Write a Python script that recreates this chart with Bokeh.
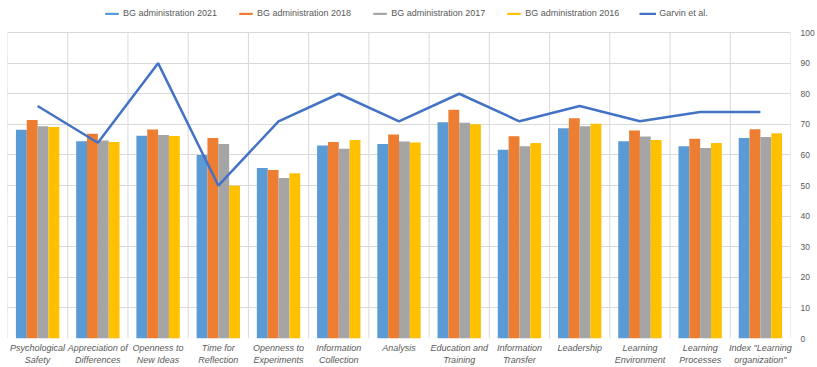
from bokeh.plotting import figure
from bokeh.models import (ColumnDataSource, Range1d, FixedTicker, Legend, LegendItem)
from bokeh.embed import file_html
from bokeh.resources import INLINE

categories = ["Psychological\nSafety", "Appreciation of\nDifferences", "Openness to\nNew Ideas",
              "Time for\nReflection", "Openness to\nExperiments", "Information\nCollection",
              "Analysis", "Education and\nTraining", "Information\nTransfer", "Leadership",
              "Learning\nEnvironment", "Learning\nProcesses", "Index \"Learning\norganization\""]
bg2021 = [68.2, 64.5, 66.3, 60.0, 55.7, 63.1, 63.6, 70.7, 61.7, 68.7, 64.5, 62.8, 65.5]
bg2018 = [71.4, 66.9, 68.3, 65.5, 55.1, 64.2, 66.7, 74.8, 66.1, 72.0, 68.0, 65.3, 68.4]
bg2017 = [69.4, 64.7, 66.5, 63.6, 52.5, 62.0, 64.4, 70.5, 62.8, 69.4, 66.0, 62.3, 65.9]
bg2016 = [69.1, 64.2, 66.2, 49.9, 54.0, 64.9, 64.1, 70.0, 63.9, 70.2, 64.9, 63.9, 67.1]
garvin = [76, 64, 90, 50, 71, 80, 71, 80, 71, 76, 71, 74, 74]
series_names = ["BG administration 2021", "BG administration 2018",
                "BG administration 2017", "BG administration 2016"]
y_ticks = list(range(0, 101, 10))
y_max = 100

colors = ["#5B9BD5", "#ED7D31", "#A5A5A5", "#FFC000"]
line_color = "#4472C4"
text_color = "#595959"
grid_color = "#D9D9D9"

n = len(categories)
centers = [i + 0.5 for i in range(n)]

# frame extends above 100 so the legend fits inside it
p = figure(width=817, height=367, output_backend="svg", toolbar_location=None,
           x_range=Range1d(0, n), y_range=Range1d(0, 109.5), y_axis_location="right",
           min_border_left=7, min_border_right=2, min_border_top=3, min_border_bottom=5)
p.outline_line_color = None

# vertical category separators (0..100 only)
bounds = list(range(n + 1))
p.segment(x0=bounds, x1=bounds, y0=[0] * len(bounds), y1=[y_max] * len(bounds),
          line_color=grid_color, line_width=1)

bw = 0.18
offsets = [-1.5 * bw, -0.5 * bw, 0.5 * bw, 1.5 * bw]
series = [bg2021, bg2018, bg2017, bg2016]
items = []
for vals, off, col, name in zip(series, offsets, colors, series_names):
    src = ColumnDataSource(dict(x=[c + off for c in centers], top=vals))
    r = p.vbar(x="x", top="top", width=bw, bottom=0, source=src, fill_color=col, line_color=None)
    items.append(LegendItem(label=name, renderers=[r]))

gsrc = ColumnDataSource(dict(x=centers, y=garvin))
gl = p.line(x="x", y="y", source=gsrc, line_color=line_color, line_width=2.5)
items.append(LegendItem(label="Garvin et al.", renderers=[gl]))

legend = Legend(items=items, orientation="horizontal", location=(96, 319),
                label_text_font="Liberation Sans", label_text_font_size="9px",
                label_text_color=text_color, glyph_width=17, glyph_height=3,
                label_height=12, label_standoff=3, spacing=20, padding=2, margin=0,
                border_line_color=None, background_fill_alpha=0)
p.add_layout(legend, "center")

# x axis
p.xaxis.ticker = FixedTicker(ticks=centers)
p.xaxis.major_label_overrides = {c: lab for c, lab in zip(centers, categories)}
p.xaxis.major_label_text_font = "Liberation Sans"
p.xaxis.major_label_text_font_style = "italic"
p.xaxis.major_label_text_font_size = "9px"
p.xaxis.major_label_text_color = text_color
p.xaxis.axis_line_color = None
p.xaxis.major_tick_line_color = None
p.xaxis.minor_tick_line_color = None
p.xaxis.major_label_standoff = -2

# y axis
p.yaxis.ticker = FixedTicker(ticks=y_ticks)
p.yaxis.major_label_text_font = "Liberation Sans"
p.yaxis.major_label_text_font_size = "8.5px"
p.yaxis.major_label_text_color = text_color
p.yaxis.axis_line_color = None
p.yaxis.major_tick_line_color = None
p.yaxis.minor_tick_line_color = None
p.yaxis.major_label_standoff = 4

p.xgrid.grid_line_color = None
p.ygrid.ticker = FixedTicker(ticks=y_ticks)
p.ygrid.grid_line_color = grid_color

open("out.html", "w").write(file_html(p, INLINE))
